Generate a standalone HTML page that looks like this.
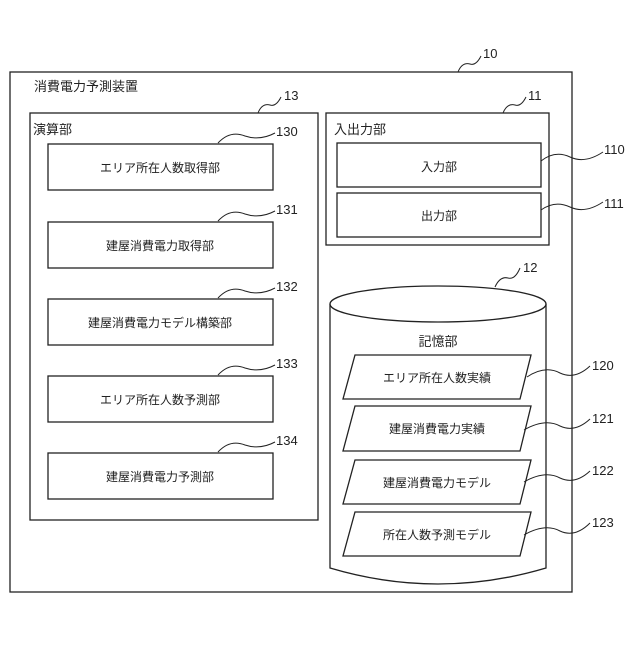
<!DOCTYPE html><html><head><meta charset="utf-8"><style>body{margin:0;background:#fff}svg text{font-family:"Liberation Sans","Noto Sans CJK JP",sans-serif;fill:#222}</style></head><body>
<svg width="640" height="640" viewBox="0 0 640 640" xmlns="http://www.w3.org/2000/svg">
<g fill="none" stroke="#222" stroke-width="1.3">
<rect x="10" y="72" width="562" height="520"/>
<rect x="30" y="113" width="288" height="407"/>
<rect x="48" y="144" width="225" height="46"/>
<rect x="48" y="222" width="225" height="46"/>
<rect x="48" y="299" width="225" height="46"/>
<rect x="48" y="376" width="225" height="46"/>
<rect x="48" y="453" width="225" height="46"/>
<rect x="326" y="113" width="223" height="132"/>
<rect x="337" y="143" width="204" height="44"/>
<rect x="337" y="193" width="204" height="44"/>
<path d="M330 304 L330 568 Q438 600 546 568 L546 304"/>
<ellipse cx="438" cy="304" rx="108" ry="18" fill="#fff"/>
<path d="M355 355 H531 L520 399 H343 Z"/>
<path d="M355 406 H531 L520 451 H343 Z"/>
<path d="M355 460 H531 L520 504 H343 Z"/>
<path d="M355 512 H531 L520 556 H343 Z"/>
<g stroke-width="1">
<path d="M458 72 Q462 62 470 64 Q476 66 481 56"/>
<path d="M258 113 Q262 103 270 105 Q276 107 281 97"/>
<path d="M503 113 Q507 103 515 105 Q521 107 526 97"/>
<path d="M218 143 Q230 130 245 136 Q260 141 275 133"/>
<path d="M218 221 Q230 208 245 214 Q260 219 275 211"/>
<path d="M218 298 Q230 285 245 291 Q260 296 275 288"/>
<path d="M218 375 Q230 362 245 368 Q260 373 275 365"/>
<path d="M218 452 Q230 439 245 445 Q260 450 275 442"/>
<path d="M541 161 Q555 150 570 157 Q585 164 603 152"/>
<path d="M541 210 Q555 200 570 207 Q585 214 603 202"/>
<path d="M495 287 Q500 276 508 278 Q515 280 520 268"/>
<path d="M527 377 Q545 365 560 373 Q575 380 590 366"/>
<path d="M524 430 Q545 418 560 426 Q575 433 590 419"/>
<path d="M524 482 Q545 470 560 478 Q575 485 590 471"/>
<path d="M524 535 Q545 523 560 531 Q575 538 590 523"/>
</g></g>
<g font-size="13">
<text x="34" y="91">消費電力予測装置</text>
<text x="33" y="134">演算部</text>
<text x="334" y="134">入出力部</text>
<text x="438" y="346" text-anchor="middle">記憶部</text>
</g>
<g font-size="12" text-anchor="middle">
<text x="160" y="172">エリア所在人数取得部</text>
<text x="160" y="250">建屋消費電力取得部</text>
<text x="160" y="327">建屋消費電力モデル構築部</text>
<text x="160" y="404">エリア所在人数予測部</text>
<text x="160" y="481">建屋消費電力予測部</text>
<text x="439" y="171">入力部</text>
<text x="439" y="220">出力部</text>
<text x="437" y="382">エリア所在人数実績</text>
<text x="437" y="433">建屋消費電力実績</text>
<text x="437" y="487">建屋消費電力モデル</text>
<text x="437" y="539">所在人数予測モデル</text>
</g>
<g font-size="13">
<text x="483" y="58">10</text><text x="284" y="100">13</text><text x="528" y="100">11</text>
<text x="276" y="136">130</text><text x="276" y="214">131</text><text x="276" y="291">132</text>
<text x="276" y="368">133</text><text x="276" y="445">134</text>
<text x="604" y="154">110</text><text x="604" y="208">111</text><text x="523" y="272">12</text>
<text x="592" y="370">120</text><text x="592" y="423">121</text><text x="592" y="475">122</text><text x="592" y="527">123</text>
</g>
</svg></body></html>
